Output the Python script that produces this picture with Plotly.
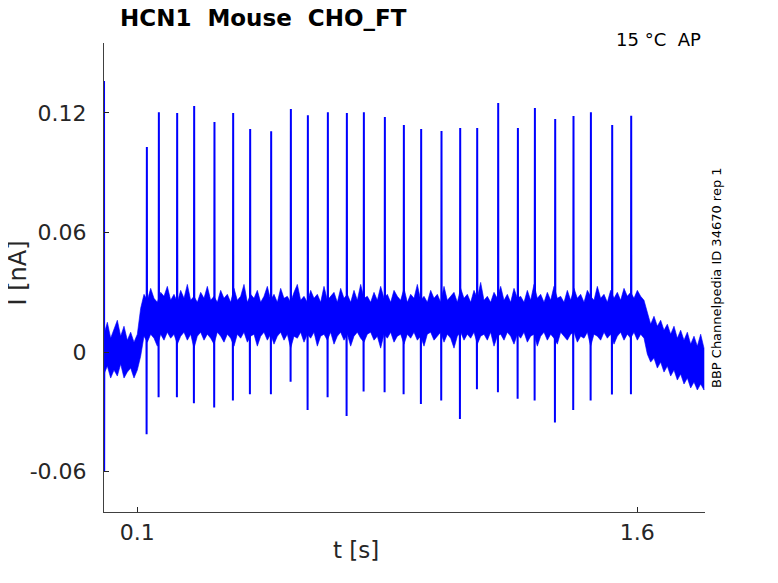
import plotly.graph_objects as go

# ---------------- data ----------------
t_step = 0.01
n_pts = 181
t_grid = [round(i * t_step, 2) for i in range(n_pts)]

# upper edge of the noise band [nA], one value per 10 ms
band_upper = [
    0.009, 0.015, 0.007, 0.012, 0.016, 0.008, 0.013, 0.006, 0.010, 0.005,
    0.009, 0.022, 0.029, 0.026, 0.032, 0.027, 0.025, 0.030, 0.028, 0.033,
    0.026, 0.029, 0.025, 0.031, 0.027, 0.034, 0.026, 0.028, 0.025, 0.030,
    0.027, 0.033, 0.026, 0.028, 0.025, 0.031, 0.027, 0.029, 0.025, 0.032,
    0.026, 0.028, 0.034, 0.025, 0.029, 0.027, 0.031, 0.025, 0.028, 0.033,
    0.026, 0.029, 0.025, 0.032, 0.027, 0.028, 0.025, 0.030, 0.034, 0.026,
    0.028, 0.025, 0.031, 0.027, 0.029, 0.025, 0.033, 0.026, 0.028, 0.030,
    0.025, 0.032, 0.027, 0.029, 0.025, 0.031, 0.026, 0.034, 0.027, 0.028,
    0.025, 0.030, 0.026, 0.033, 0.027, 0.029, 0.025, 0.031, 0.028, 0.026,
    0.032, 0.025, 0.029, 0.027, 0.034, 0.026, 0.028, 0.025, 0.031, 0.027,
    0.029, 0.025, 0.033, 0.026, 0.028, 0.030, 0.025, 0.032, 0.027, 0.029,
    0.025, 0.031, 0.027, 0.035, 0.026, 0.028, 0.025, 0.030, 0.027, 0.033,
    0.026, 0.029, 0.025, 0.032, 0.027, 0.028, 0.025, 0.031, 0.026, 0.034,
    0.027, 0.029, 0.025, 0.030, 0.026, 0.033, 0.027, 0.028, 0.025, 0.031,
    0.026, 0.032, 0.027, 0.029, 0.025, 0.031, 0.028, 0.026, 0.033, 0.027,
    0.029, 0.025, 0.031, 0.027, 0.030, 0.026, 0.032, 0.028, 0.030, 0.027,
    0.031, 0.028, 0.026, 0.020, 0.014, 0.018, 0.013, 0.016, 0.011, 0.014,
    0.009, 0.013, 0.007, 0.011, 0.006, 0.010, 0.004, 0.008, 0.003, 0.009,
    0.002,
]

# lower edge of the noise band [nA]
band_lower = [
    -0.011, -0.007, -0.013, -0.009, -0.012, -0.006, -0.013, -0.010, -0.008, -0.013,
    -0.009, -0.002, 0.008, 0.005, 0.009, 0.007, 0.003, 0.009, 0.006, 0.010,
    0.007, 0.009, 0.004, 0.008, 0.010, 0.006, 0.009, 0.002, 0.008, 0.010,
    0.006, 0.009, 0.007, 0.004, 0.010, 0.008, 0.005, 0.009, 0.007, 0.003,
    0.009, 0.007, 0.010, 0.005, 0.008, 0.009, 0.003, 0.008, 0.010, 0.006,
    0.009, 0.004, 0.008, 0.010, 0.006, 0.009, 0.002, 0.008, 0.007, 0.010,
    0.005, 0.009, 0.007, 0.010, 0.003, 0.008, 0.009, 0.006, 0.010, 0.004,
    0.008, 0.010, 0.006, 0.009, 0.003, 0.008, 0.010, 0.007, 0.005, 0.009,
    0.010, 0.006, 0.008, 0.002, 0.009, 0.007, 0.010, 0.005, 0.008, 0.009,
    0.004, 0.009, 0.007, 0.010, 0.006, 0.008, 0.003, 0.009, 0.010, 0.006,
    0.008, 0.010, 0.005, 0.009, 0.007, 0.002, 0.008, 0.010, 0.006, 0.009,
    0.007, 0.010, 0.004, 0.008, 0.009, 0.006, 0.010, 0.003, 0.008, 0.009,
    0.006, 0.010, 0.008, 0.004, 0.009, 0.007, 0.010, 0.005, 0.008, 0.009,
    0.003, 0.008, 0.010, 0.006, 0.009, 0.007, 0.004, 0.010, 0.008, 0.006,
    0.009, 0.010, 0.005, 0.008, 0.007, 0.010, 0.003, 0.009, 0.008, 0.006,
    0.010, 0.007, 0.009, 0.004, 0.008, 0.010, 0.006, 0.009, 0.007, 0.010,
    0.006, 0.009, 0.007, -0.001, -0.005, -0.003, -0.008, -0.005, -0.010, -0.007,
    -0.012, -0.009, -0.014, -0.011, -0.016, -0.013, -0.018, -0.015, -0.019, -0.016,
    -0.019,
]

# action-potential spikes: time [s], peak [nA], trough [nA]
spike_t = [0.1282, 0.1642, 0.2191, 0.2701, 0.3310, 0.3871, 0.4381, 0.5011, 0.5602,
           0.6112, 0.6712, 0.7282, 0.7792, 0.8422, 0.8992, 0.9511, 1.0121, 1.0682,
           1.1192, 1.1822, 1.2413, 1.2923, 1.3532, 1.4081, 1.4603, 1.5242, 1.5812]
spike_peak = [0.1029, 0.1203, 0.1200, 0.1235, 0.1155, 0.1200, 0.1120, 0.1108, 0.1220,
              0.1188, 0.1203, 0.1200, 0.1203, 0.1180, 0.1140, 0.1120, 0.1110, 0.1125,
              0.1125, 0.1250, 0.1125, 0.1225, 0.1170, 0.1185, 0.1203, 0.1140, 0.1186]
spike_trough = [-0.0412, -0.0226, -0.0226, -0.0256, -0.0278, -0.0243, -0.0211, -0.0211,
                -0.0149, -0.0290, -0.0226, -0.0320, -0.0198, -0.0201, -0.0211, -0.0260,
                -0.0243, -0.0336, -0.0186, -0.0201, -0.0234, -0.0243, -0.0353, -0.0290,
                -0.0243, -0.0213, -0.0211]
spike_base = 0.018

# capacitive transient at the start of the sweep
transient_t = [0.0, 0.0004, 0.0008, 0.0012]
transient_i = [0.0, 0.136, -0.060, 0.0]

x_ticks = [0.1, 1.6]
x_ticklabels = ["0.1", "1.6"]
y_ticks = [-0.06, 0, 0.06, 0.12]
y_ticklabels = ["-0.06", "0", "0.06", "0.12"]

# ---------------- figure ----------------
BLUE = "#0000ff"
AX = "#262626"
FONT = "DejaVu Sans"

fig = go.Figure()

# noise band
fig.add_trace(go.Scatter(
    x=t_grid + t_grid[::-1],
    y=band_upper + band_lower[::-1],
    fill="toself", fillcolor=BLUE, mode="lines",
    line=dict(color=BLUE, width=0.6),
    hoverinfo="skip", showlegend=False,
))

# spikes
sx, sy = [], []
for t, pk, tr in zip(spike_t, spike_peak, spike_trough):
    sx += [t - 0.0008, t - 0.0004, t + 0.0004, t + 0.0008, None]
    sy += [spike_base, tr, pk, spike_base, None]
fig.add_trace(go.Scatter(
    x=sx, y=sy, mode="lines", line=dict(color=BLUE, width=2),
    hoverinfo="skip", showlegend=False, connectgaps=False,
))

# transient
fig.add_trace(go.Scatter(
    x=transient_t, y=transient_i, mode="lines",
    line=dict(color=BLUE, width=1.8), hoverinfo="skip", showlegend=False,
))

fig.update_layout(
    width=778, height=583,
    margin=dict(l=96, r=81, t=35, b=79),
    paper_bgcolor="white", plot_bgcolor="white",
    font=dict(family=FONT, color=AX),
    showlegend=False,
)
fig.update_xaxes(
    range=[0.0, 1.803], tickvals=x_ticks, ticktext=x_ticklabels,
    ticks="inside", ticklen=5, tickwidth=1, tickcolor=AX,
    showline=True, linecolor="#404040", linewidth=1, mirror=False,
    showgrid=False, zeroline=False, tickfont=dict(size=22, color=AX, family=FONT),
    ticklabelstandoff=1,
)
fig.update_yaxes(
    range=[-0.0802, 0.1551], tickvals=y_ticks, ticktext=y_ticklabels,
    ticks="inside", ticklen=5, tickwidth=1, tickcolor=AX,
    showline=True, linecolor="#404040", linewidth=1, mirror=False,
    showgrid=False, zeroline=False, tickfont=dict(size=22, color=AX, family=FONT),
    ticklabelstandoff=12,
)

annotations = [
    dict(text="<b>HCN1  Mouse  CHO_FT</b>", x=(118 - 104) / 601, y=1 + (43 - 18) / 469,
         xanchor="left", yanchor="middle", font=dict(size=23, color="black", family=FONT)),
    dict(text="15 °C  AP", x=(703 - 104) / 601, y=1 + (43 - 40) / 469,
         xanchor="right", yanchor="middle", font=dict(size=18, color="black", family=FONT)),
    dict(text="BBP Channelpedia ID 34670 rep 1", x=(716.5 - 104) / 601, y=(512 - 277.5) / 469,
         xanchor="center", yanchor="middle", textangle=-90,
         font=dict(size=13, color="black", family=FONT)),
    dict(text="I [nA]", x=(17.5 - 104) / 601, y=(512 - 273) / 469,
         xanchor="center", yanchor="middle", textangle=-90,
         font=dict(size=24, color=AX, family=FONT)),
    dict(text="t [s]", x=(356 - 104) / 601, y=(512 - 550) / 469,
         xanchor="center", yanchor="middle",
         font=dict(size=23, color=AX, family=FONT)),
]
for a in annotations:
    a.update(xref="paper", yref="paper", showarrow=False)
fig.update_layout(annotations=annotations)

fig.write_html("out.html")
